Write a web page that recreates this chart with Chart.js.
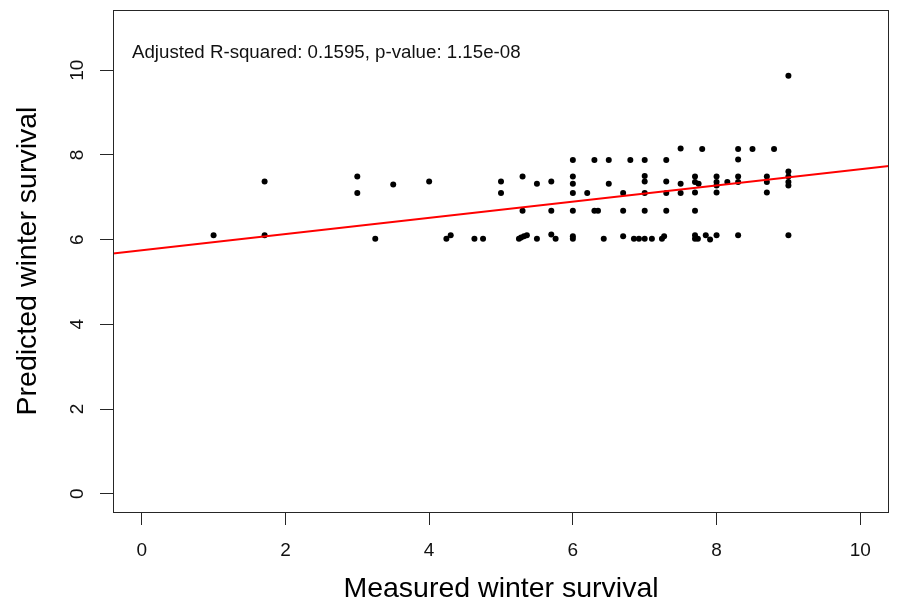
<!DOCTYPE html>
<html>
<head>
<meta charset="utf-8">
<title>Winter survival</title>
<script src="https://cdn.jsdelivr.net/npm/chart.js@4/dist/chart.umd.min.js"></script>
<style>
  body { margin: 0; background: #fff; }
  #wrap { width: 898px; height: 606px; }
</style>
</head>
<body>
<div id="wrap"><canvas id="survivalChart"></canvas></div>
<script>
// measured vs predicted
const measured = [
  1.0, 1.71, 1.71, 3.0, 3.0, 3.25, 3.5, 4.0, 4.24, 4.3, 4.63, 4.75,
  5.0, 5.0, 5.3, 5.3, 5.25, 5.28, 5.32, 5.36, 5.5, 5.5, 5.7, 5.7, 5.7, 5.76,
  6.0, 6.0, 6.0, 6.0, 6.0, 6.0, 6.0, 6.2, 6.3, 6.3, 6.35, 6.43, 6.5, 6.5,
  6.7, 6.7, 6.7, 6.8, 6.85, 6.92, 7.0, 7.1, 7.0, 7.0, 7.0, 7.0, 7.0,
  7.24, 7.27, 7.3, 7.3, 7.3, 7.3, 7.5, 7.5, 7.5, 7.8, 8.3, 8.5, 8.8, 9.0,
  8.3, 7.7, 7.7, 7.75, 7.7, 7.7, 7.7, 7.7, 7.74, 7.85, 7.91,
  8.0, 8.0, 8.0, 8.0, 8.0, 8.15, 8.3, 8.3, 8.3, 8.7, 8.7, 8.7,
  9.0, 9.0, 9.0, 9.0, 9.0
];
const predicted = [
  6.1, 7.37, 6.1, 7.49, 7.1, 6.02, 7.3, 7.37, 6.02, 6.1, 6.02, 6.02,
  7.37, 7.1, 7.49, 6.68, 6.02, 6.05, 6.08, 6.1, 7.32, 6.02, 7.37, 6.68, 6.12, 6.02,
  7.88, 7.49, 7.32, 7.1, 6.68, 6.08, 6.02, 7.1, 7.88, 6.68, 6.68, 6.02, 7.88, 7.32,
  7.1, 6.68, 6.08, 7.88, 6.02, 6.02, 6.02, 6.02, 7.88, 7.5, 7.37, 7.1, 6.68,
  6.02, 6.08, 7.88, 7.37, 7.1, 6.68, 8.15, 7.32, 7.1, 8.14, 8.14, 8.14, 8.14, 9.87,
  7.89, 7.49, 7.36, 7.32, 7.11, 6.68, 6.1, 6.02, 6.02, 6.1, 6.0,
  6.1, 7.49, 7.36, 7.28, 7.11, 7.36, 7.49, 7.36, 6.1, 7.49, 7.36, 7.11,
  7.61, 7.49, 7.36, 7.28, 6.1
];

// fitted line, end points at the plot edges
const fitX = [-0.4, 10.4];
const fitY = [5.67, 7.74];

const xTicks = [0, 2, 4, 6, 8, 10];
const yTicks = [0, 2, 4, 6, 8, 10];
const statsLabel = 'Adjusted R-squared: 0.1595, p-value: 1.15e-08';

const baseFont = 'Liberation Sans, Arial, sans-serif';
const axisColor = '#262626';

const toPoints = (xs, ys) => xs.map((x, i) => ({ x: x, y: ys[i] }));

// box, rotated y labels and the stats text, R style
const rDecor = {
  id: 'rDecor',
  afterDraw(chart) {
    const ctx = chart.ctx;
    const area = chart.chartArea;
    const yScale = chart.scales.y;

    ctx.save();
    ctx.strokeStyle = axisColor;
    ctx.lineWidth = 1;
    ctx.strokeRect(Math.round(area.left) + 0.5, Math.round(area.top) + 0.5,
      Math.round(area.right - area.left) - 1, Math.round(area.bottom - area.top));

    ctx.fillStyle = '#111';
    ctx.font = '19px ' + baseFont;
    ctx.textAlign = 'center';
    ctx.textBaseline = 'middle';
    yScale.ticks.forEach(t => {
      const py = yScale.getPixelForValue(t.value);
      ctx.save();
      ctx.translate(78, py);
      ctx.rotate(-Math.PI / 2);
      ctx.fillText(String(t.value), 0, 0);
      ctx.restore();
    });

    ctx.font = '18.7px ' + baseFont;
    ctx.textAlign = 'left';
    ctx.textBaseline = 'alphabetic';
    ctx.fillText(statsLabel, area.left + 19, area.top + 48);
    ctx.restore();
  }
};

function buildChart() {
  const ctx = document.getElementById('survivalChart').getContext('2d');

  return new Chart(ctx, {
    type: 'scatter',
    data: {
      datasets: [
        {
          type: 'line',
          data: toPoints(fitX, fitY),
          borderColor: '#ff0000',
          borderWidth: 2,
          pointRadius: 0,
          fill: false
        },
        {
          data: toPoints(measured, predicted),
          backgroundColor: '#000',
          borderColor: '#000',
          borderWidth: 0,
          pointRadius: 3
        }
      ]
    },
    options: {
      responsive: true,
      maintainAspectRatio: false,
      animation: false,
      layout: { padding: { top: 10, right: 9, left: 0, bottom: 0 } },
      plugins: { legend: { display: false }, tooltip: { enabled: false } },
      scales: {
        x: {
          type: 'linear',
          min: -0.4,
          max: 10.4,
          afterBuildTicks: s => { s.ticks = xTicks.map(v => ({ value: v })); },
          afterFit: s => { s.height = 94; },
          border: { display: false },
          grid: { drawOnChartArea: false, drawTicks: true, tickLength: 13, color: axisColor },
          ticks: { color: '#111', padding: 14, maxRotation: 0, font: { family: baseFont, size: 19 } },
          title: {
            display: true,
            text: 'Measured winter survival',
            color: '#000',
            padding: { top: 0, bottom: 0 },
            font: { family: baseFont, size: 28.5 }
          }
        },
        y: {
          type: 'linear',
          min: -0.43,
          max: 11.42,
          afterBuildTicks: s => { s.ticks = yTicks.map(v => ({ value: v })); },
          afterFit: s => { s.width = 113; },
          border: { display: false },
          grid: { drawOnChartArea: false, drawTicks: true, tickLength: 13, color: axisColor },
          ticks: { display: false },
          title: {
            display: true,
            text: 'Predicted winter survival',
            color: '#000',
            padding: { top: 11, bottom: 0 },
            font: { family: baseFont, size: 28.5 }
          }
        }
      }
    },
    plugins: [rDecor]
  });
}

buildChart();
</script>
</body>
</html>
